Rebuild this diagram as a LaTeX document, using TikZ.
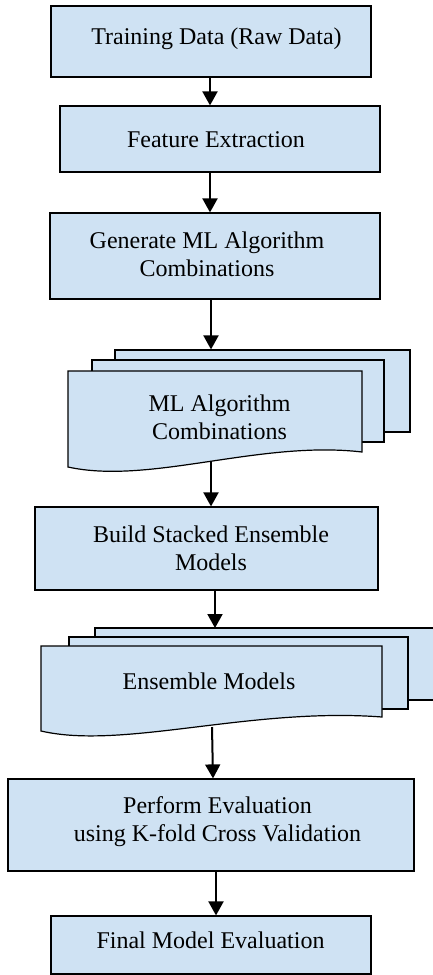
\documentclass[tikz,border=0pt]{standalone}
\usepackage{fontspec}
\setmainfont{Liberation Serif}
\usetikzlibrary{arrows.meta}
\definecolor{boxblue}{RGB}{207,226,243}
\tikzset{
  box/.style={draw=black, line width=1.2pt, fill=boxblue, inner sep=0pt},
  txt/.style={font=\fontsize{24}{28}\selectfont, align=center, inner sep=0pt},
  arr/.style={line width=2pt, -{Triangle[width=15pt,length=14pt]}},
  layer/.style={draw=black, line width=1.2pt, fill=boxblue, line join=miter}
}
\begin{document}
\begin{tikzpicture}[x=1pt,y=-1pt]
\useasboundingbox (0,0) rectangle (433,975);
% boxes
\node[box, minimum width=320pt, minimum height=71pt] (b1) at (211,41.5) {};
\node[box, minimum width=320pt, minimum height=66pt] (b2) at (220,139) {};
\node[box, minimum width=330pt, minimum height=86pt] (b3) at (215,256) {};
% multi-document 1
\node[box, minimum width=295pt, minimum height=82pt] (m1back) at (262.5,391) {};
\node[box, minimum width=292pt, minimum height=82pt] (m1mid) at (238,401) {};
\draw[layer] (68,371) -- (362,371) -- (362,452) .. controls (260,440) and (150,485) .. (68,467) -- cycle;
\coordinate (m1bot) at (211,461);
\node[box, minimum width=343pt, minimum height=83pt] (b5) at (206.5,548.5) {};
% multi-document 2
\fill[boxblue] (95,628) rectangle (433,700);
\draw[line width=1.2pt] (433,628) -- (95,628) -- (95,700) -- (433,700);
\coordinate (m2top) at (215,628);
\node[box, minimum width=339pt, minimum height=72pt] (m2mid) at (238.5,673) {};
\draw[layer] (41,646) -- (382,646) -- (382,717) .. controls (250,707) and (123,750) .. (41,731) -- cycle;
\coordinate (m2bot) at (212,727);
\node[box, minimum width=406pt, minimum height=92pt] (b7) at (211,825) {};
\node[box, minimum width=320pt, minimum height=58pt] (b8) at (211,945) {};
% texts
\node[txt] (t1) at (216.5,39.35) {\strut Training Data (Raw Data)};
\node[txt] (t2) at (216,141.85) {\strut Feature Extraction};
\node[txt] (t3) at (207,256.85) {\strut Generate ML Algorithm\\\strut Combinations};
\node[txt] (tm) at (219.5,420.35) {\strut ML Algorithm\\\strut Combinations};
\node[txt] (t5) at (211,551.35) {\strut Build Stacked Ensemble\\\strut Models};
\node[txt] (te) at (209,683.85) {\strut Ensemble Models};
\node[txt] (t7) at (217.5,821.85) {\strut Perform Evaluation\\\strut using K-fold Cross Validation};
\node[txt] (t8) at (210.5,942.85) {\strut Final Model Evaluation};
% arrow x positions
\coordinate (ax1) at (210,0);
\coordinate (ax3) at (211,0);
\coordinate (ax5) at (215,0);
\coordinate (ax6) at (213,0);
\coordinate (ax7) at (216,0);
% arrows
\draw[arr] (b1.south -| ax1) -- (b2.north -| ax1);
\draw[arr] (b2.south -| ax1) -- (b3.north -| ax1);
\draw[arr] (b3.south -| ax3) -- (m1back.north -| ax3);
\draw[arr] (m1bot) -- (b5.north -| ax3);
\draw[arr] (b5.south -| ax5) -- (m2top);
\draw[arr] (m2bot) -- (b7.north -| ax6);
\draw[arr] (b7.south -| ax7) -- (b8.north -| ax7);
\end{tikzpicture}
\end{document}
